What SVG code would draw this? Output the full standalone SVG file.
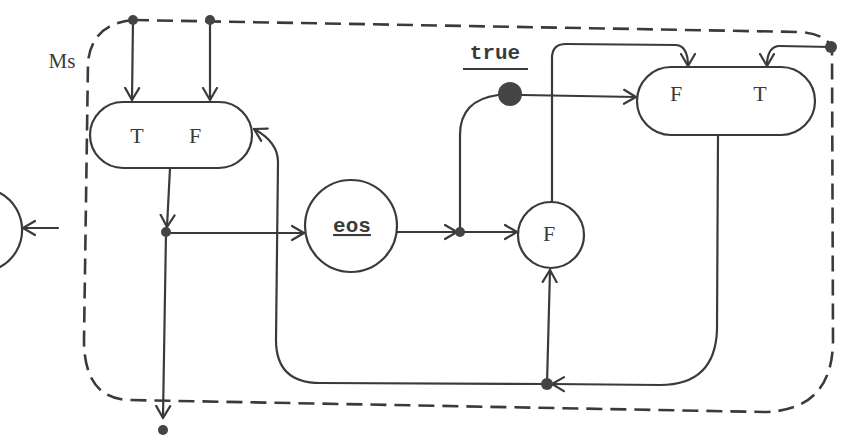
<svg xmlns="http://www.w3.org/2000/svg" width="842" height="445" viewBox="0 0 842 445">
<style>
.ln{fill:none;stroke:#3a3a3a;stroke-width:2.2;stroke-linecap:round}
.nd{fill:#fff;stroke:#3a3a3a;stroke-width:2.2}
.dot{fill:#444;stroke:none}
.bd{fill:none;stroke:#3a3a3a;stroke-width:2.6;stroke-dasharray:16 8}
.tx{font-family:"Liberation Mono","DejaVu Sans Mono",monospace;font-size:21px;fill:#3a3a3a;text-anchor:middle}
.lt{font-family:"Liberation Serif","DejaVu Serif",serif;font-size:22px;fill:#3a3a3a;text-anchor:middle}
</style>
<defs>
<marker id="ar" viewBox="-13 -9 15 18" refX="0" refY="0" markerWidth="15" markerHeight="18" markerUnits="userSpaceOnUse" orient="auto">
<path d="M-12,-7 L0,0 L-12,7" fill="none" stroke="#3a3a3a" stroke-width="2.2" stroke-linecap="round" stroke-linejoin="round"/>
</marker>
</defs>
<rect width="842" height="445" fill="#fff"/>
<g id="boundary">
<path class="bd" d="M133,20 L800,32 Q826,34 832,48 L833,340 Q833,410 765,412 L128,400 Q84,398 84,340 L88,62 Q92,24 133,20"/>
</g>
<text x="62" y="68" class="lt" style="font-size:21px">Ms</text>
<g id="connectors">
<path class="ln" d="M133,20 L132,100" marker-end="url(#ar)"/>
<path class="ln" d="M210,20 L210,100" marker-end="url(#ar)"/>
<path class="ln" d="M170,168 L167,227" marker-end="url(#ar)"/>
<path class="ln" d="M166,232 L163,418" marker-end="url(#ar)"/>
<path class="ln" d="M166,233 L304,233" marker-end="url(#ar)"/>
<path class="ln" d="M397,232 L457,232" marker-end="url(#ar)"/>
<path class="ln" d="M460,232 L517,232" marker-end="url(#ar)"/>
<path class="ln" d="M460,232 L460,135 Q460,100 498,95"/>
<path class="ln" d="M522,95 L636,97" marker-end="url(#ar)"/>
<path class="ln" d="M552,202 L552,58 Q552,44 566,44 L676,45 Q688,46 688,66" marker-end="url(#ar)"/>
<path class="ln" d="M831,47 L780,46 Q767,46 767,66" marker-end="url(#ar)"/>
<path class="ln" d="M718,135 L717,330 Q715,385 660,385 L552,384" marker-end="url(#ar)"/>
<path class="ln" d="M547,384 L550,270" marker-end="url(#ar)"/>
<path class="ln" d="M547,384 L320,383 Q276,383 276,340 L278,162 Q278,142 254,129" marker-end="url(#ar)"/>
<path class="ln" d="M58,228 L23,228" marker-end="url(#ar)"/>
</g>
<g id="dots">
<circle class="dot" cx="133" cy="20" r="5"/>
<circle class="dot" cx="210" cy="20" r="5"/>
<circle class="dot" cx="166" cy="232" r="5"/>
<circle class="dot" cx="460" cy="232" r="5"/>
<circle class="dot" cx="547" cy="384" r="6"/>
<circle class="dot" cx="831" cy="47" r="6"/>
<circle class="dot" cx="163" cy="430" r="5"/>
</g>
<g id="left-node">
<path class="ln" d="M0,193 A42,42 0 0 1 0,267"/>
</g>
<g id="pill-TF">
<rect class="nd" x="90" y="102" width="162" height="66" rx="33"/>
<text class="lt" x="137" y="143">T</text>
<text class="lt" x="195" y="143">F</text>
</g>
<g id="eos">
<circle class="nd" cx="351" cy="226" r="46"/>
<text class="tx" x="352" y="232" style="font-weight:bold" text-decoration="underline">eos</text>
</g>
<g id="true">
<circle cx="510" cy="94" r="12" fill="#444"/>
<text class="tx" x="495" y="59" style="font-weight:bold">true</text>
<line x1="463" y1="69" x2="528" y2="69" stroke="#3a3a3a" stroke-width="2.2"/>
</g>
<g id="circle-F">
<circle class="nd" cx="551" cy="235" r="33"/>
<text class="lt" x="549" y="241">F</text>
</g>
<g id="pill-FT">
<rect class="nd" x="637" y="67" width="178" height="68" rx="34"/>
<text class="lt" x="676" y="101">F</text>
<text class="lt" x="760" y="101">T</text>
</g>
</svg>
